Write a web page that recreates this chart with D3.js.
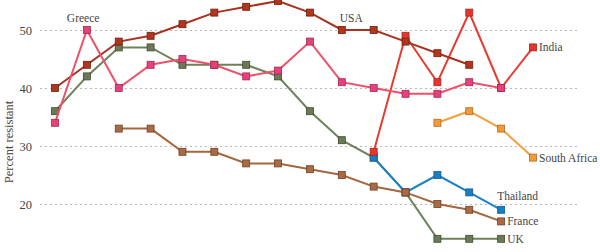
<!DOCTYPE html>
<html>
<head>
<meta charset="utf-8">
<script src="https://cdn.jsdelivr.net/npm/d3@7"></script>
<style>
  body { margin: 0; background: #fff; }
  text { font-family: "Liberation Serif", serif; fill: #444; }
</style>
</head>
<body>
<div id="chart"></div>
<script>
/* DATA */
const years = [1993, 1994, 1995, 1996, 1997, 1998, 1999, 2000, 2001, 2002, 2003, 2004, 2005, 2006, 2007, 2008];
const yTicks = [20, 30, 40, 50];

// null = no value that year
const uk = [36, 42, 47, 47, 44, 44, 44, 42, 36, 31, 28, 22, 14, 14, 14, null];
const thailand = [null, null, null, null, null, null, null, null, null, null, 28, 22, 25, 22, 19, null];
const france = [null, null, 33, 33, 29, 29, 27, 27, 26, 25, 23, 22, 20, 19, 17, null];
const india = [null, null, null, null, null, null, null, null, null, null, 29, 49, 41, 53, 40, 47];
const southAfrica = [null, null, null, null, null, null, null, null, null, null, null, null, 34, 36, 33, 28];
const usa = [40, 44, 48, 49, 51, 53, 54, 55, 53, 50, 50, 48, 46, 44, null, null];
const greece = [34, 50, 40, 44, 45, 44, 42, 43, 48, 41, 40, 39, 39, 41, 40, null];

const series = [
  { name: "UK", values: uk, line: "#6f8158", fill: "#6b7a55", stroke: "#3f4a33" },
  { name: "Thailand", values: thailand, line: "#1b82c6", fill: "#1a7fc2", stroke: "#135c8f" },
  { name: "France", values: france, line: "#a5663e", fill: "#a96b45", stroke: "#6e4226" },
  { name: "India", values: india, line: "#e83a30", fill: "#e8342c", stroke: "#a52520" },
  { name: "South Africa", values: southAfrica, line: "#f2a040", fill: "#f09a3c", stroke: "#b06a20" },
  { name: "USA", values: usa, line: "#a8321e", fill: "#b0361e", stroke: "#6d2010" },
  { name: "Greece", values: greece, line: "#f0506a", fill: "#e6407d", stroke: "#a02a50" }
];

// label positions relative to the point they name
const labels = [
  { name: "Greece", year: 1994, dx: -20, dy: -8 },
  { name: "USA", year: 2002, dx: -2, dy: -8 },
  { name: "India", year: 2008, dx: 6, dy: 4 },
  { name: "South Africa", year: 2008, dx: 6, dy: 4 },
  { name: "Thailand", year: 2007, dx: -4, dy: -10 },
  { name: "France", year: 2007, dx: 6, dy: 4 },
  { name: "UK", year: 2007, dx: 6, dy: 4 }
];

/* LAYOUT */
const width = 600, height = 252;
const margin = { top: 30, left: 40, right: 22 };

const svg = d3.select("#chart").append("svg")
  .attr("width", width)
  .attr("height", height);

const xScale = d3.scalePoint()
  .domain(years)
  .range([55, 533]);

const yScale = d3.scaleLinear()
  .domain([20, 50])
  .range([204, 30]);

// gridlines + tick labels
const yAxis = d3.axisLeft(yScale)
  .tickValues(yTicks)
  .tickSize(-(width - margin.right - margin.left))
  .tickPadding(8);

const yAxisGroup = svg.append("g")
  .attr("transform", `translate(${margin.left}, 0)`)
  .call(yAxis);

yAxisGroup.select(".domain").remove();
yAxisGroup.selectAll(".tick line")
  .attr("stroke", "#b8b8b8")
  .attr("stroke-dasharray", "2,3");
yAxisGroup.selectAll(".tick text")
  .attr("font-size", 12.5)
  .attr("font-family", "Liberation Serif, serif")
  .attr("fill", "#555");

svg.append("text")
  .attr("transform", `translate(13, 142) rotate(-90)`)
  .attr("text-anchor", "middle")
  .attr("font-size", 12.5)
  .text("Percent resistant");

const lineGen = d3.line()
  .defined(d => d.v != null)
  .x(d => xScale(d.year))
  .y(d => yScale(d.v));

const groups = svg.selectAll(".series")
  .data(series)
  .join("g")
  .attr("class", "series");

groups.append("path")
  .attr("fill", "none")
  .attr("stroke", d => d.line)
  .attr("stroke-width", 2)
  .attr("d", d => lineGen(years.map((y, i) => ({ year: y, v: d.values[i] }))));

groups.selectAll("rect")
  .data(d => years.map((y, i) => ({ year: y, v: d.values[i], s: d })).filter(p => p.v != null))
  .join("rect")
  .attr("x", d => xScale(d.year) - 3.5)
  .attr("y", d => yScale(d.v) - 3.5)
  .attr("width", 7)
  .attr("height", 7)
  .attr("fill", d => d.s.fill)
  .attr("stroke", d => d.s.stroke)
  .attr("stroke-width", 0.8);

svg.selectAll(".label")
  .data(labels)
  .join("text")
  .attr("class", "label")
  .attr("font-size", 11.5)
  .attr("x", d => xScale(d.year) + d.dx)
  .attr("y", d => {
    const s = series.find(s => s.name === d.name);
    return yScale(s.values[years.indexOf(d.year)]) + d.dy;
  })
  .text(d => d.name);
</script>
</body>
</html>
